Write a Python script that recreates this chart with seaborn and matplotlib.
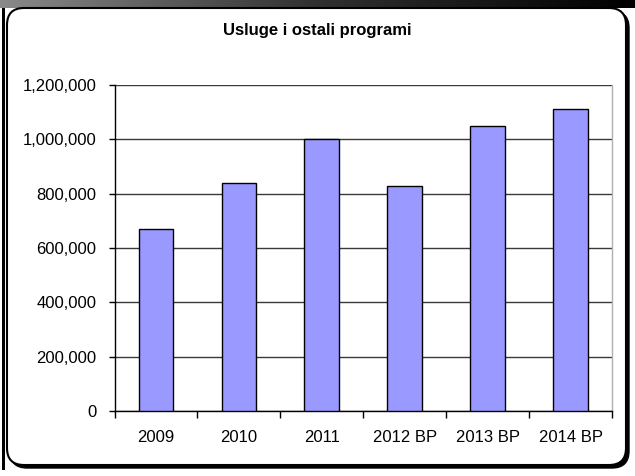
import numpy as np
import pandas as pd
import matplotlib
matplotlib.use("Agg")
import matplotlib.pyplot as plt
import seaborn as sns
from matplotlib.patches import FancyBboxPatch, Rectangle
from matplotlib.ticker import FuncFormatter, FixedLocator

categories = ["2009", "2010", "2011", "2012 BP", "2013 BP", "2014 BP"]
values = [670000, 840000, 1000000, 830000, 1050000, 1110000]
title = "Usluge i ostali programi"
yticks = [0, 200000, 400000, 600000, 800000, 1000000, 1200000]

sns.set_theme(style="white")
plt.rcParams["font.family"] = ["Liberation Sans", "DejaVu Sans"]

W, H = 635, 476
fig = plt.figure(figsize=(W / 100, H / 100), dpi=100)
fig.patch.set_facecolor("white")

# background / frame layer in pixel coordinates
bg = fig.add_axes([0, 0, 1, 1], zorder=0)
bg.set_xlim(0, W)
bg.set_ylim(H, 0)
bg.axis("off")
grad = np.linspace(0, 1, 256).reshape(1, -1)
bg.imshow(grad, extent=[0, W, 8, 0], aspect="auto", cmap=matplotlib.colors.LinearSegmentedColormap.from_list("g", ["#8a8a8a", "#303030", "#000000"]), zorder=0)
bg.add_patch(Rectangle((1.5, 8), 3, 462, facecolor="black", edgecolor="none", zorder=1))
bg.add_patch(FancyBboxPatch((10, 11), 619, 457, boxstyle="round,pad=0,rounding_size=17",
                            facecolor="black", edgecolor="black", lw=1, zorder=2))
bg.add_patch(FancyBboxPatch((7, 8), 619, 457, boxstyle="round,pad=0,rounding_size=17",
                            facecolor="white", edgecolor="black", lw=1.5, zorder=3))

# chart axes
left, right, top, bottom = 114.5, 612.3, 85, 411
ax = fig.add_axes([left / W, (H - bottom) / H, (right - left) / W, (bottom - top) / H], zorder=2)
ax.set_facecolor("none")

df = pd.DataFrame({"cat": categories, "val": values})
sns.barplot(data=df, x="cat", y="val", ax=ax, color="#9999FF", width=0.42,
            edgecolor="black", linewidth=1, saturation=1, zorder=3)

ax.set_xlim(-0.5, len(categories) - 0.5)
ax.set_ylim(0, 1200000)
ax.set_yticks(yticks)
ax.yaxis.set_major_formatter(FuncFormatter(lambda v, p: f"{int(v):,}"))
ax.grid(axis="y", color="#3a3a3a", lw=1)
ax.set_axisbelow(True)
ax.set_xlabel("")
ax.set_ylabel("")

ax.spines["top"].set_visible(False)
ax.spines["right"].set_visible(True)
ax.spines["right"].set_color("#b0b0b0")
ax.spines["right"].set_linewidth(1)
ax.spines["left"].set_color("black")
ax.spines["left"].set_linewidth(1)
ax.spines["bottom"].set_color("black")
ax.spines["bottom"].set_linewidth(1)

ax.tick_params(axis="y", which="major", left=True, length=4, width=1, color="black",
               pad=9, labelsize=12, labelcolor="black")
ax.tick_params(axis="x", which="major", bottom=False, length=0, pad=14,
               labelsize=12, labelcolor="black")
ax.xaxis.set_minor_locator(FixedLocator(np.arange(-0.5, len(categories), 1.0)))
ax.tick_params(axis="x", which="minor", bottom=True, length=5, width=1, color="black")

fig.text(317 / W, 1 - 31 / H, title, ha="center", va="center", fontsize=12,
         fontweight="bold", color="black")

fig.savefig("out.png", dpi=100)
